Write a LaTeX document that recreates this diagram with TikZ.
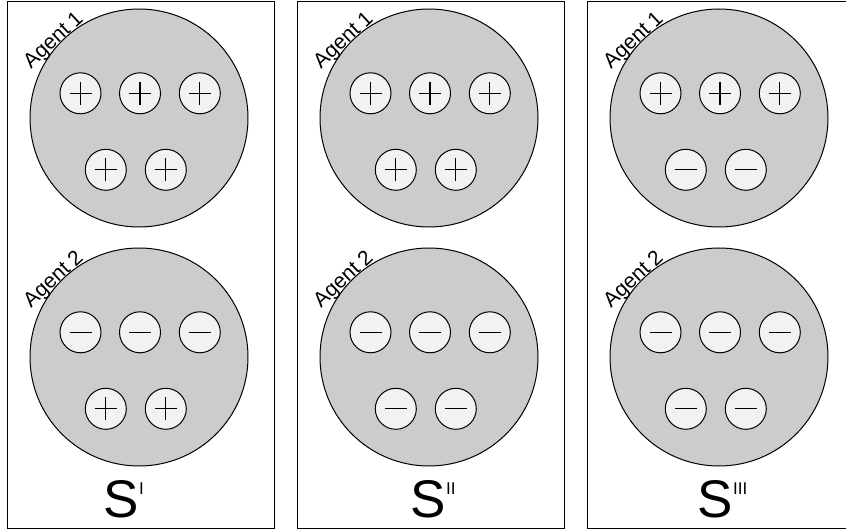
\documentclass[tikz,border=0pt]{standalone}
\usepackage{fontspec}
\setmainfont{Liberation Sans}
\begin{document}
\begin{tikzpicture}[x=1pt,y=-1pt,
  panel/.style={draw=black,line width=1.3pt,fill=white},
  agent/.style={circle,draw=black,line width=1pt,fill=black!20,minimum size=218pt,inner sep=0pt},
  chg/.style={circle,draw=black,line width=1pt,fill=black!5,minimum size=41pt,inner sep=0pt},
  poschg/.style={chg,path picture={
    \draw[line width=1.2pt] ([xshift=-11pt]path picture bounding box.center) -- ([xshift=11pt]path picture bounding box.center);
    \draw[line width=1.2pt] ([yshift=-11.5pt]path picture bounding box.center) -- ([yshift=11.5pt]path picture bounding box.center);}},
  negchg/.style={chg,path picture={
    \draw[line width=1.2pt] ([xshift=-11pt]path picture bounding box.center) -- ([xshift=11pt]path picture bounding box.center);}},
  agentlbl/.style={anchor=base,rotate=43,inner sep=0pt,font=\fontsize{21}{21}\selectfont},
  slbl/.style={anchor=base west,inner sep=0pt}
]
\useasboundingbox (0,0) rectangle (846,529);
\clip (0,0) rectangle (846,529);
% panels
\foreach \p/\ox in {1/0,2/290,3/580}{
  \node[panel,minimum width=267pt,minimum height=526.5pt,inner sep=0pt,anchor=north west] (panel\p) at (7+\ox,1) {};
  \node[agent] (a\p) at (139+\ox,118) {};
  \node[agent] (b\p) at (139+\ox,357) {};
  \node[agentlbl] (la\p) at (a\p.138) {Agent 1};
  \node[agentlbl] (lb\p) at (b\p.138) {Agent 2};
}
% panel 1
\node[poschg] (a1c1) at (80.5,93.3) {};
\node[poschg] (a1c2) at (140,93.3) {};
\node[poschg] (a1c3) at (199.8,93.3) {};
\node[poschg] (a1c4) at (105.8,169.8) {};
\node[poschg] (a1c5) at (165.8,169.8) {};
\node[negchg] (b1c1) at (80.5,332.3) {};
\node[negchg] (b1c2) at (140,332.3) {};
\node[negchg] (b1c3) at (199.8,332.3) {};
\node[poschg] (b1c4) at (105.8,408.8) {};
\node[poschg] (b1c5) at (165.8,408.8) {};
% panel 2
\node[poschg] (a2c1) at (370.5,93.3) {};
\node[poschg] (a2c2) at (430,93.3) {};
\node[poschg] (a2c3) at (489.8,93.3) {};
\node[poschg] (a2c4) at (395.8,169.8) {};
\node[poschg] (a2c5) at (455.8,169.8) {};
\node[negchg] (b2c1) at (370.5,332.3) {};
\node[negchg] (b2c2) at (430,332.3) {};
\node[negchg] (b2c3) at (489.8,332.3) {};
\node[negchg] (b2c4) at (395.8,408.8) {};
\node[negchg] (b2c5) at (455.8,408.8) {};
% panel 3
\node[poschg] (a3c1) at (660.5,93.3) {};
\node[poschg] (a3c2) at (720,93.3) {};
\node[poschg] (a3c3) at (779.8,93.3) {};
\node[negchg] (a3c4) at (685.8,169.8) {};
\node[negchg] (a3c5) at (745.8,169.8) {};
\node[negchg] (b3c1) at (660.5,332.3) {};
\node[negchg] (b3c2) at (720,332.3) {};
\node[negchg] (b3c3) at (779.8,332.3) {};
\node[negchg] (b3c4) at (685.8,408.8) {};
\node[negchg] (b3c5) at (745.8,408.8) {};
% state labels
\node[slbl] (s1) at (103.5,517) {{\fontsize{53}{53}\selectfont S}\raisebox{23pt}{\fontsize{17}{17}\selectfont I}};
\node[slbl] (s2) at (410.5,517) {{\fontsize{53}{53}\selectfont S}\raisebox{23pt}{\fontsize{17}{17}\selectfont II}};
\node[slbl] (s3) at (697.5,517) {{\fontsize{53}{53}\selectfont S}\raisebox{23pt}{\fontsize{17}{17}\selectfont III}};
\end{tikzpicture}
\end{document}
